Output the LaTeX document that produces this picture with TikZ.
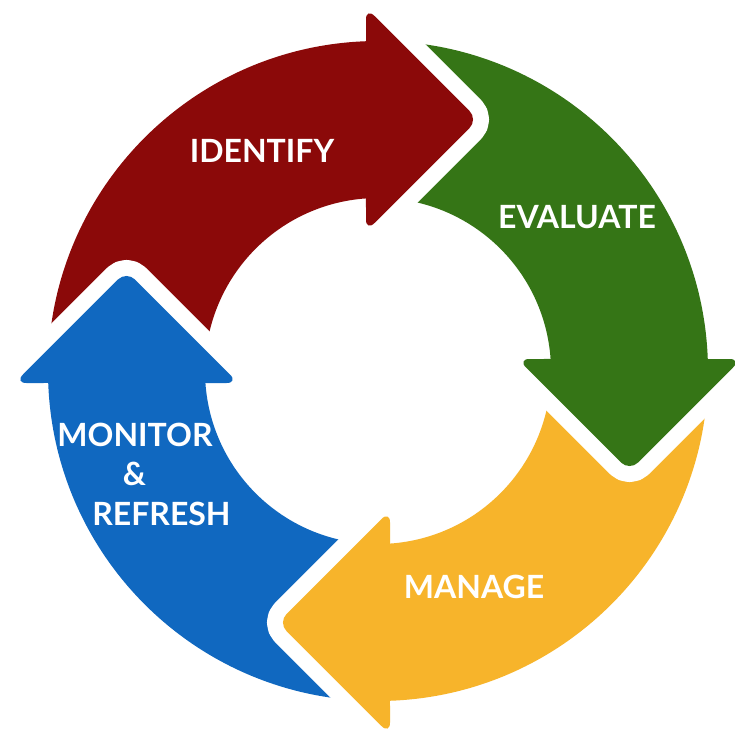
\documentclass[tikz,border=0pt]{standalone}
\usepackage{fontspec}
\setmainfont{Lato}

\definecolor{identifyred}{RGB}{139,9,9}
\definecolor{evaluategreen}{RGB}{53,117,22}
\definecolor{manageyellow}{RGB}{247,180,43}
\definecolor{monitorblue}{RGB}{16,104,192}

% one quarter of the ring plus its head, sitting at the top and pointing right
\newcommand{\ringarrow}{(178:330pt) arc[start angle=178, end angle=92.08, radius=330pt]
  -- (-12,335) [rounded corners=12pt] -- (-12,363.5) -- (100,251.5) -- (-12,139.5)
  -- (-12,165) [sharp corners] -- (93.98:173pt)
  arc[start angle=93.98, end angle=178, radius=173pt] -- cycle}

\tikzset{
  seg/.style={fill=#1, preaction={draw=white, line width=32pt, line join=round}},
  lbl/.style={text=white, inner sep=0pt, font=\fontsize{32}{38}\selectfont\bfseries}
}

\begin{document}
\begin{tikzpicture}[x=1pt, y=1pt]
\path[use as bounding box] (-378,-360) rectangle (357,371);
\clip (-378,-360) rectangle (357,371);

\begin{scope}[rotate=90]
  \fill[seg=monitorblue] \ringarrow;
\end{scope}
\begin{scope}[rotate=180]
  \fill[seg=manageyellow] \ringarrow;
\end{scope}
\begin{scope}[rotate=-90]
  \fill[seg=evaluategreen] \ringarrow;
\end{scope}
\fill[seg=identifyred] \ringarrow;

% blue head once more, so it sits over the red tail
\begin{scope}[rotate=90]
  \clip (-12,100) rectangle (160,420);
  \fill[seg=monitorblue] \ringarrow;
\end{scope}

\node[lbl] (identify) at (-116,220) {IDENTIFY};
\node[lbl] (evaluate) at (199,154) {EVALUATE};
\node[lbl] (manage) at (96,-216) {MANAGE};
\node[lbl] (monitor) at (-243,-63.5) {MONITOR};
\node[lbl] (amp) at (-243.5,-103) {\&};
\node[lbl] (refresh) at (-216.5,-142.5) {REFRESH};
\end{tikzpicture}
\end{document}
